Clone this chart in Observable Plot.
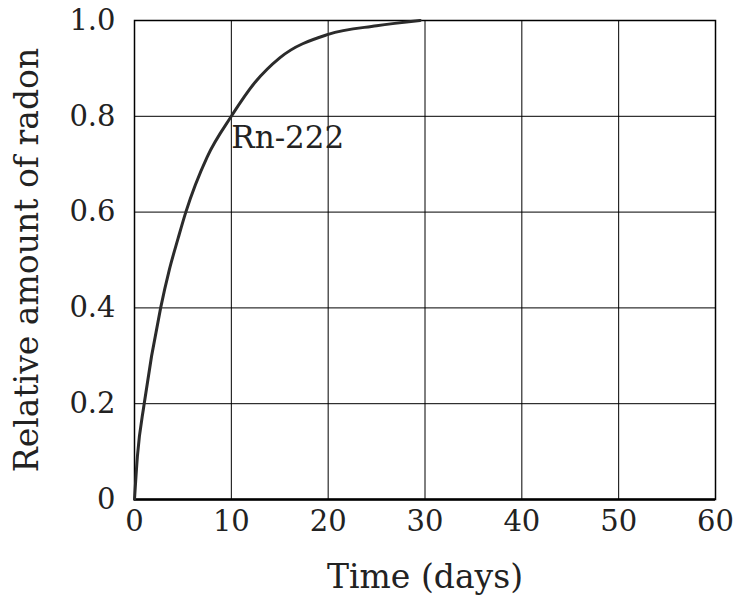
<!DOCTYPE html>
<html>
<head>
<meta charset="utf-8">
<script src="https://cdn.jsdelivr.net/npm/d3@7"></script>
<script src="https://cdn.jsdelivr.net/npm/@observablehq/plot@0.6"></script>
<style>
  html, body { margin: 0; padding: 0; background: #fff; }
  #chart svg { display: block; }
</style>
</head>
<body>
<div id="chart"></div>
<script>
// Data
const timeDays = [0, 0.3, 1.0, 2.7, 3.6, 4.5, 5.3, 7.5, 10, 12.5, 15, 20, 25, 29.5];
const relAmount = [0, 0.09, 0.2, 0.4, 0.48, 0.545, 0.6, 0.715, 0.8, 0.872, 0.922, 0.971, 0.989, 1.0];
const xTicks = [0, 10, 20, 30, 40, 50, 60];
const yTicks = [0, 0.2, 0.4, 0.6, 0.8, 1.0];
const yTickLabels = ["0", "0.2", "0.4", "0.6", "0.8", "1.0"];
const xTitle = "Time (days)";
const yTitle = "Relative amount of radon";
const seriesLabel = [{t: 10, v: 0.8, name: "Rn-222"}];

const curve = timeDays.map((t, i) => ({t, v: relAmount[i]}));
const yLabelMap = new Map(yTicks.map((d, i) => [d, yTickLabels[i]]));
const axisFont = "DejaVu Serif";

const chart = Plot.plot({
  width: 734,
  height: 597,
  marginLeft: 134,
  marginRight: 19,
  marginTop: 20,
  marginBottom: 98,
  x: {domain: [0, 60]},
  y: {domain: [0, 1]},
  marks: [
    Plot.gridX(xTicks, {stroke: "#000", strokeOpacity: 1, strokeWidth: 1}),
    Plot.gridY(yTicks, {stroke: "#000", strokeOpacity: 1, strokeWidth: 1}),
    Plot.frame({stroke: "#000", strokeWidth: 1.5}),
    Plot.ruleY([0], {stroke: "#000", strokeWidth: 2.5}),
    // tick labels
    Plot.axisX(xTicks, {
      tickSize: 0, tickPadding: 11, fontSize: 29, fontFamily: axisFont, fill: "#222", label: null
    }),
    Plot.axisY(yTicks, {
      tickSize: 0, tickPadding: 19, fontSize: 29, fontFamily: axisFont, fill: "#222",
      tickFormat: d => yLabelMap.get(d), label: null
    }),
    // axis titles
    Plot.axisX([], {
      tickSize: 0, fontSize: 33, fontFamily: axisFont, fill: "#222",
      label: xTitle, labelAnchor: "center", labelArrow: "none", labelOffset: 88
    }),
    Plot.axisY([], {
      tickSize: 0, fontSize: 33, fontFamily: axisFont, fill: "#222",
      label: yTitle, labelAnchor: "center", labelArrow: "none", labelOffset: 120
    }),
    Plot.line(curve, {x: "t", y: "v", stroke: "#2b2b2b", strokeWidth: 3, curve: "monotone-x"}),
    Plot.text(seriesLabel, {x: "t", y: "v", text: "name", textAnchor: "start", lineAnchor: "top",
      dy: 10, dx: 0, fontSize: 31, fontFamily: axisFont, fill: "#222"})
  ]
});

document.getElementById("chart").appendChild(chart);
</script>
</body>
</html>
